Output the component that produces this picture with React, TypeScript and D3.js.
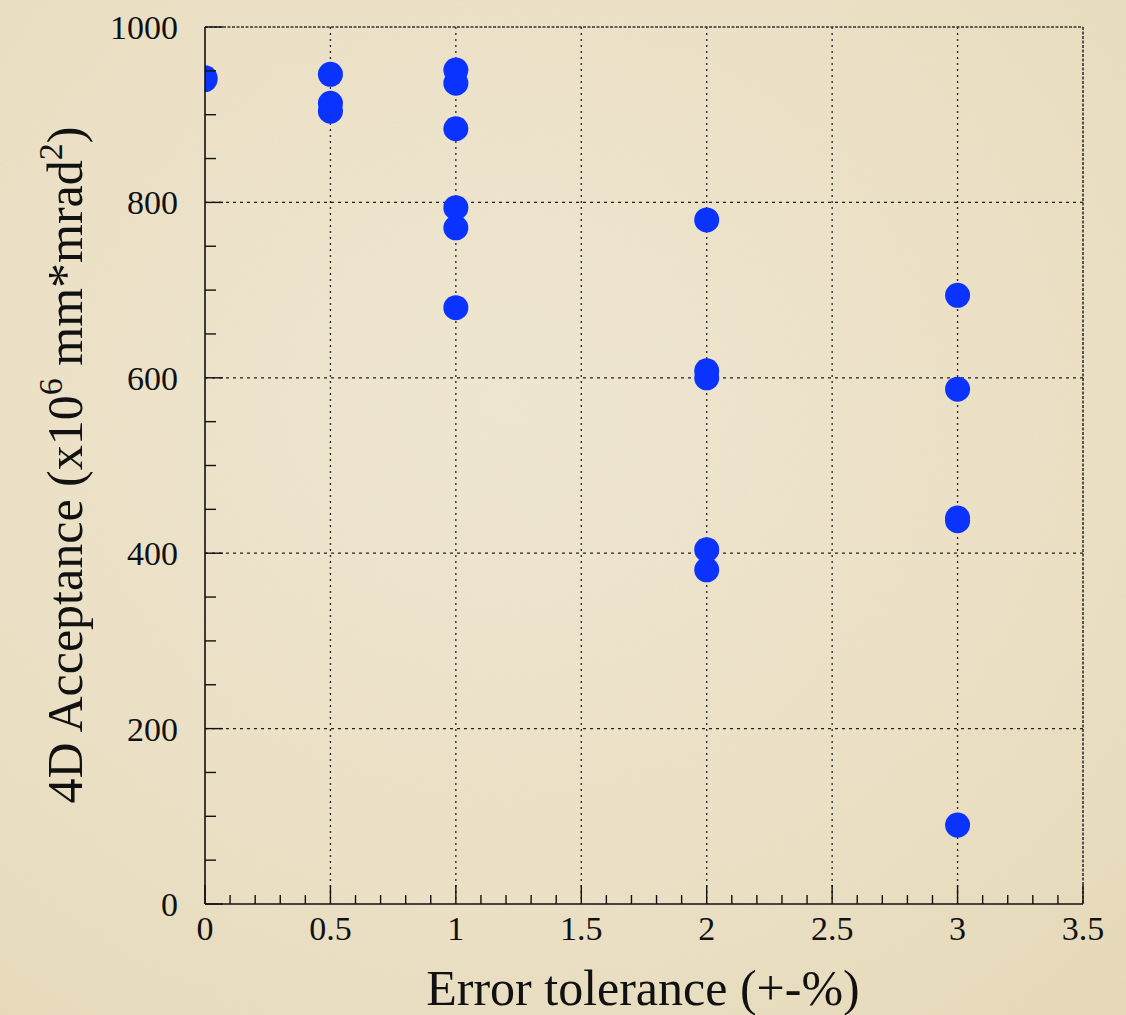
import React from "react";
import * as d3 from "d3";

// Error tolerance (+-%) for each run
const tolerance = [0, 0, 0.5, 0.5, 0.5, 1, 1, 1, 1, 1, 1, 2, 2, 2, 2, 2, 3, 3, 3, 3, 3];
// 4D acceptance (x10^6 mm*mrad^2) for each run
const acceptance = [942, 940, 946, 913, 904, 951, 936, 884, 794, 771, 680, 780, 608, 600, 404, 381, 694, 587, 440, 437, 90];

const xMajorTicks = [0, 0.5, 1, 1.5, 2, 2.5, 3, 3.5];
const yMajorTicks = [0, 200, 400, 600, 800, 1000];
const xGridTicks = [0.5, 1, 1.5, 2, 2.5, 3];
const yGridTicks = [200, 400, 600, 800];

const W = 1126;
const H = 1015;
const left = 205;
const right = 1083;
const top = 27;
const bottom = 904;

const FONT = "'Liberation Serif', 'Times New Roman', serif";

export default function App() {
  const x = d3.scaleLinear().domain([0, 3.5]).range([left, right]);
  const y = d3.scaleLinear().domain([0, 1000]).range([bottom, top]);

  const xMinor = d3.range(0, 36).map((i) => i / 10).filter((v) => Math.abs(v * 2 - Math.round(v * 2)) > 1e-6);
  const yMinor = d3.range(0, 1001, 50).filter((v) => v % 200 !== 0);

  const points = tolerance.map((t, i) => ({ t, a: acceptance[i] }));

  return (
    <svg
      width={W}
      height={H}
      style={{ position: "absolute", left: 0, top: 0, display: "block" }}
      fontFamily={FONT}
    >
      <defs>
        <radialGradient id="paper" cx="45%" cy="40%" r="80%">
          <stop offset="0%" stopColor="#f0e7d1" />
          <stop offset="60%" stopColor="#ece1c5" />
          <stop offset="100%" stopColor="#e7dab9" />
        </radialGradient>
        <filter id="grain" x="0" y="0" width="100%" height="100%">
          <feTurbulence type="fractalNoise" baseFrequency="0.9" numOctaves="2" seed="3" />
          <feColorMatrix type="saturate" values="0" />
        </filter>
        <clipPath id="plotClip">
          <rect x={left} y={top} width={right - left} height={bottom - top} />
        </clipPath>
      </defs>

      <rect x={0} y={0} width={W} height={H} fill="url(#paper)" />
      <rect x={0} y={0} width={W} height={H} filter="url(#grain)" opacity={0.05} />

      {/* grid */}
      {xGridTicks.map((v) => (
        <line key={"gx" + v} x1={x(v)} x2={x(v)} y1={top} y2={bottom} stroke="#222" strokeWidth={1.3} strokeDasharray="2,4" />
      ))}
      {yGridTicks.map((v) => (
        <line key={"gy" + v} x1={left} x2={right} y1={y(v)} y2={y(v)} stroke="#222" strokeWidth={1.3} strokeDasharray="3,4" />
      ))}

      {/* frame: top and right */}
      <line x1={left} x2={right} y1={top} y2={top} stroke="#333" strokeWidth={1.6} strokeDasharray="3,1.5" />
      <line x1={right} x2={right} y1={top} y2={bottom} stroke="#333" strokeWidth={1.6} strokeDasharray="3,1.5" />

      {/* points */}
      <g clipPath="url(#plotClip)">
        {points.map((p, i) => (
          <circle key={i} cx={x(p.t)} cy={y(p.a)} r={12.5} fill="#0b33ff" />
        ))}
      </g>

      {/* axes */}
      <line x1={left} x2={left} y1={top} y2={bottom} stroke="#111" strokeWidth={1.6} />
      <line x1={left} x2={right} y1={bottom} y2={bottom} stroke="#111" strokeWidth={1.6} />

      {/* x ticks */}
      {xMajorTicks.map((v) => (
        <line key={"xt" + v} x1={x(v)} x2={x(v)} y1={bottom} y2={bottom - 19} stroke="#111" strokeWidth={1.4} />
      ))}
      {xMinor.map((v) => (
        <line key={"xm" + v} x1={x(v)} x2={x(v)} y1={bottom} y2={bottom - 9} stroke="#111" strokeWidth={1.4} />
      ))}
      {xMajorTicks.map((v) => (
        <text key={"xl" + v} x={x(v)} y={940} fontSize={34} textAnchor="middle" fill="#111">
          {String(v)}
        </text>
      ))}

      {/* y ticks */}
      {yMajorTicks.map((v) => (
        <line key={"yt" + v} x1={left} x2={left + 18} y1={y(v)} y2={y(v)} stroke="#111" strokeWidth={1.4} />
      ))}
      {yMinor.map((v) => (
        <line key={"ym" + v} x1={left} x2={left + 11} y1={y(v)} y2={y(v)} stroke="#111" strokeWidth={1.4} />
      ))}
      {yMajorTicks.map((v) => (
        <text key={"yl" + v} x={178} y={y(v) + 12} fontSize={34} textAnchor="end" fill="#111">
          {String(v)}
        </text>
      ))}

      {/* axis titles */}
      <text x={643} y={1005} fontSize={50} textAnchor="middle" fill="#111">
        Error tolerance (+-%)
      </text>
      <text transform="translate(82,465) rotate(-90)" fontSize={50} textAnchor="middle" fill="#111">
        4D Acceptance (x10
        <tspan fontSize={34} dy={-20}>6</tspan>
        <tspan dy={20}> mm*mrad</tspan>
        <tspan fontSize={34} dy={-20}>2</tspan>
        <tspan dy={20}>)</tspan>
      </text>
    </svg>
  );
}
